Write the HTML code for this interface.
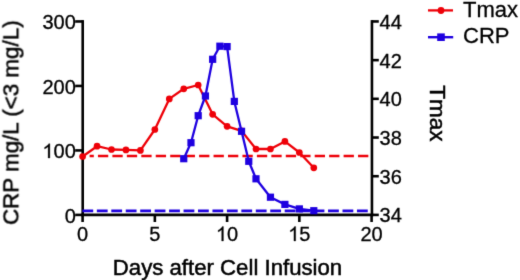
<!DOCTYPE html><html><head><meta charset="utf-8"><style>html,body{margin:0;padding:0;background:#fff;}svg{display:block;}text{font-family:"Liberation Sans",sans-serif;fill:#000;stroke:#000;stroke-width:0.5px;}text.t{stroke-width:0.3px;}</style></head><body>
<div style="will-change:transform;width:520px;height:280px">
<svg width="520" height="280" viewBox="0 0 520 280" >
<defs><filter id="bl" x="0" y="0" width="100%" height="100%" filterUnits="userSpaceOnUse" color-interpolation-filters="sRGB"><feConvolveMatrix order="3" kernelMatrix="0.01134 0.08382 0.01134 0.08382 0.61935 0.08382 0.01134 0.08382 0.01134" edgeMode="duplicate" preserveAlpha="true"/></filter></defs>
<g filter="url(#bl)">
<rect width="520" height="280" fill="#fff"/>
<line x1="82.70" y1="20.1" x2="82.70" y2="216.20" stroke="#000" stroke-width="2.6"/>
<line x1="371.95" y1="20.1" x2="371.95" y2="216.20" stroke="#000" stroke-width="2.6"/>
<line x1="81.30" y1="214.9" x2="373.25" y2="214.9" stroke="#000" stroke-width="2.6"/>
<line x1="75.2" y1="214.90" x2="82.6" y2="214.90" stroke="#000" stroke-width="2.6"/>
<text x="64.68" y="222.50" font-size="20" class="t">0</text>
<line x1="75.2" y1="150.42" x2="82.6" y2="150.42" stroke="#000" stroke-width="2.6"/>
<path d="M763,0L583,0L583,1147Q518,1085 412,1023Q306,961 222,930L222,1104Q373,1175 486,1276Q599,1377 646,1472L763,1472Z" transform="translate(42.43,158.02) scale(0.009766,-0.009766)" fill="#000" stroke="#000" stroke-width="30.7"/>
<text x="53.55" y="158.02" font-size="20" class="t">00</text>
<line x1="75.2" y1="85.94" x2="82.6" y2="85.94" stroke="#000" stroke-width="2.6"/>
<text x="42.43" y="93.54" font-size="20" class="t">200</text>
<line x1="75.2" y1="21.46" x2="82.6" y2="21.46" stroke="#000" stroke-width="2.6"/>
<text x="42.43" y="29.06" font-size="20" class="t">300</text>
<line x1="371.95" y1="214.90" x2="378.8" y2="214.90" stroke="#000" stroke-width="2.6"/>
<text x="379.60" y="222.30" font-size="20" class="t">34</text>
<line x1="371.95" y1="176.21" x2="378.8" y2="176.21" stroke="#000" stroke-width="2.6"/>
<text x="379.60" y="183.61" font-size="20" class="t">36</text>
<line x1="371.95" y1="137.52" x2="378.8" y2="137.52" stroke="#000" stroke-width="2.6"/>
<text x="379.60" y="144.92" font-size="20" class="t">38</text>
<line x1="371.95" y1="98.83" x2="378.8" y2="98.83" stroke="#000" stroke-width="2.6"/>
<text x="379.60" y="106.23" font-size="20" class="t">40</text>
<line x1="371.95" y1="60.14" x2="378.8" y2="60.14" stroke="#000" stroke-width="2.6"/>
<text x="379.60" y="67.54" font-size="20" class="t">42</text>
<line x1="371.95" y1="21.45" x2="378.8" y2="21.45" stroke="#000" stroke-width="2.6"/>
<text x="379.60" y="28.85" font-size="20" class="t">44</text>
<line x1="82.60" y1="214.9" x2="82.60" y2="222" stroke="#000" stroke-width="2.6"/>
<text x="77.04" y="241.00" font-size="20" class="t">0</text>
<line x1="154.85" y1="214.9" x2="154.85" y2="222" stroke="#000" stroke-width="2.6"/>
<text x="149.29" y="241.00" font-size="20" class="t">5</text>
<line x1="227.10" y1="214.9" x2="227.10" y2="222" stroke="#000" stroke-width="2.6"/>
<path d="M763,0L583,0L583,1147Q518,1085 412,1023Q306,961 222,930L222,1104Q373,1175 486,1276Q599,1377 646,1472L763,1472Z" transform="translate(215.98,241.00) scale(0.009766,-0.009766)" fill="#000" stroke="#000" stroke-width="30.7"/>
<text x="227.10" y="241.00" font-size="20" class="t">0</text>
<line x1="299.35" y1="214.9" x2="299.35" y2="222" stroke="#000" stroke-width="2.6"/>
<path d="M763,0L583,0L583,1147Q518,1085 412,1023Q306,961 222,930L222,1104Q373,1175 486,1276Q599,1377 646,1472L763,1472Z" transform="translate(288.23,241.00) scale(0.009766,-0.009766)" fill="#000" stroke="#000" stroke-width="30.7"/>
<text x="299.35" y="241.00" font-size="20" class="t">5</text>
<line x1="371.60" y1="214.9" x2="371.60" y2="222" stroke="#000" stroke-width="2.6"/>
<text x="360.48" y="241.00" font-size="20" class="t">20</text>
<text x="227.5" y="275.0" font-size="22.2" text-anchor="middle">Days after Cell Infusion</text>
<text transform="translate(18.4,122.7) rotate(-90)" x="0" y="0" font-size="22.4" text-anchor="middle">CRP mg/L (&lt;3 mg/L)</text>
<text transform="translate(430,113.3) rotate(90)" x="0" y="0" font-size="22.5" text-anchor="middle">Tmax</text>
<line x1="89.6" y1="156" x2="369.0" y2="156" stroke="#ee0008" stroke-width="2.7" stroke-dasharray="10.3 4.15" stroke-dashoffset="6.10"/>
<line x1="82.40" y1="210.8" x2="368" y2="210.8" stroke="#1e00e0" stroke-width="2.8" stroke-dasharray="10.8 3.65"/>
<polyline points="82.60,156.50 97.05,146.20 111.50,149.50 125.95,149.90 140.40,150.40 154.85,129.50 169.30,98.90 183.75,88.80 198.20,85.00 212.65,114.30 227.10,126.30 241.55,130.90 256.00,149.00 270.45,149.00 284.90,141.40 299.35,152.50 313.80,167.80" fill="none" stroke="#ee0008" stroke-width="2.3" stroke-linejoin="round"/>
<circle cx="82.60" cy="156.50" r="3.35" fill="#ee0008"/>
<circle cx="97.05" cy="146.20" r="3.35" fill="#ee0008"/>
<circle cx="111.50" cy="149.50" r="3.35" fill="#ee0008"/>
<circle cx="125.95" cy="149.90" r="3.35" fill="#ee0008"/>
<circle cx="140.40" cy="150.40" r="3.35" fill="#ee0008"/>
<circle cx="154.85" cy="129.50" r="3.35" fill="#ee0008"/>
<circle cx="169.30" cy="98.90" r="3.35" fill="#ee0008"/>
<circle cx="183.75" cy="88.80" r="3.35" fill="#ee0008"/>
<circle cx="198.20" cy="85.00" r="3.35" fill="#ee0008"/>
<circle cx="212.65" cy="114.30" r="3.35" fill="#ee0008"/>
<circle cx="227.10" cy="126.30" r="3.35" fill="#ee0008"/>
<circle cx="241.55" cy="130.90" r="3.35" fill="#ee0008"/>
<circle cx="256.00" cy="149.00" r="3.35" fill="#ee0008"/>
<circle cx="270.45" cy="149.00" r="3.35" fill="#ee0008"/>
<circle cx="284.90" cy="141.40" r="3.35" fill="#ee0008"/>
<circle cx="299.35" cy="152.50" r="3.35" fill="#ee0008"/>
<circle cx="313.80" cy="167.80" r="3.35" fill="#ee0008"/>
<polyline points="183.75,158.70 190.97,142.70 198.20,115.70 205.42,96.00 212.65,59.30 219.88,46.20 227.10,46.60 234.32,101.40 241.55,131.30 248.77,161.30 256.00,178.80 270.45,197.20 284.90,204.40 299.35,208.90 313.80,210.70" fill="none" stroke="#1e00e0" stroke-width="2.3" stroke-linejoin="round"/>
<rect x="180.15" y="155.10" width="7.2" height="7.2" fill="#1e00e0"/>
<rect x="187.38" y="139.10" width="7.2" height="7.2" fill="#1e00e0"/>
<rect x="194.60" y="112.10" width="7.2" height="7.2" fill="#1e00e0"/>
<rect x="201.82" y="92.40" width="7.2" height="7.2" fill="#1e00e0"/>
<rect x="209.05" y="55.70" width="7.2" height="7.2" fill="#1e00e0"/>
<rect x="216.28" y="42.60" width="7.2" height="7.2" fill="#1e00e0"/>
<rect x="223.50" y="43.00" width="7.2" height="7.2" fill="#1e00e0"/>
<rect x="230.72" y="97.80" width="7.2" height="7.2" fill="#1e00e0"/>
<rect x="237.95" y="127.70" width="7.2" height="7.2" fill="#1e00e0"/>
<rect x="245.17" y="157.70" width="7.2" height="7.2" fill="#1e00e0"/>
<rect x="252.40" y="175.20" width="7.2" height="7.2" fill="#1e00e0"/>
<rect x="266.85" y="193.60" width="7.2" height="7.2" fill="#1e00e0"/>
<rect x="281.30" y="200.80" width="7.2" height="7.2" fill="#1e00e0"/>
<rect x="295.75" y="205.30" width="7.2" height="7.2" fill="#1e00e0"/>
<rect x="310.20" y="207.10" width="7.2" height="7.2" fill="#1e00e0"/>
<line x1="428" y1="10.4" x2="453" y2="10.4" stroke="#ee0008" stroke-width="2.3"/>
<circle cx="441" cy="10.5" r="3.4" fill="#ee0008"/>
<line x1="428" y1="37.2" x2="453.2" y2="37.2" stroke="#1e00e0" stroke-width="2.4"/>
<rect x="437.2" y="33.4" width="7.6" height="7.6" fill="#1e00e0"/>
<text x="463" y="17.0" font-size="22" class="t">Tmax</text>
<text x="463" y="42.8" font-size="22" class="t">CRP</text>
</g></svg></div></body></html>
